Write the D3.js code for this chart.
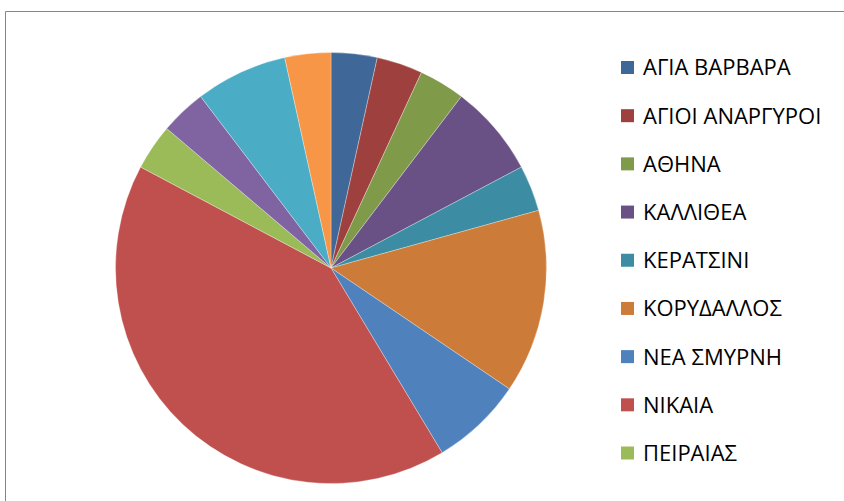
<!DOCTYPE html>
<html>
<head>
<meta charset="utf-8">
<script src="https://cdn.jsdelivr.net/npm/d3@7"></script>
<style>
  html, body { margin: 0; padding: 0; background: #fff; }
  svg { display: block; }
</style>
</head>
<body>
<svg id="chart" width="844" height="501"></svg>
<script>
// Municipalities (clockwise from 12 o'clock) and their counts
const categories = [
  "ΑΓΙΑ ΒΑΡΒΑΡΑ", "ΑΓΙΟΙ ΑΝΑΡΓΥΡΟΙ", "ΑΘΗΝΑ", "ΚΑΛΛΙΘΕΑ", "ΚΕΡΑΤΣΙΝΙ",
  "ΚΟΡΥΔΑΛΛΟΣ", "ΝΕΑ ΣΜΥΡΝΗ", "ΝΙΚΑΙΑ", "ΠΕΙΡΑΙΑΣ",
  "ΠΕΡΑΜΑ", "ΠΕΡΙΣΤΕΡΙ", "ΧΑΙΔΑΡΙ"
];
const values = [1, 1, 1, 2, 1, 4, 2, 12, 1, 1, 2, 1];
const colors = [
  "#3F6899", "#9E413E", "#7F9A48", "#695185", "#3C8DA3", "#CC7B38",
  "#4F81BD", "#C0504D", "#9BBB59", "#8064A2", "#4BACC6", "#F79646"
];
// Only the entries that fit in the legend box are listed
const legendCount = 9;

const svg = d3.select("#chart");

// Chart area frame
svg.append("path")
  .attr("d", "M5.5,501 V11.5 H844")
  .attr("fill", "none")
  .attr("stroke", "#868686")
  .attr("stroke-width", 1);

const cx = 331, cy = 268, r = 215.5;

const pie = d3.pie().sort(null).value(d => d.value);
const arc = d3.arc().innerRadius(0).outerRadius(r);
const data = categories.map((c, i) => ({ name: c, value: values[i], color: colors[i] }));

svg.append("g")
  .attr("transform", `translate(${cx},${cy})`)
  .selectAll("path")
  .data(pie(data))
  .join("path")
  .attr("d", arc)
  .attr("fill", d => d.data.color)
  .attr("stroke", "#ffffff")
  .attr("stroke-width", 0.5)
  .attr("stroke-opacity", 0.6);

// Legend
const legendY = d3.scaleLinear().domain([0, legendCount - 1]).range([67.5, 453]);
const legend = svg.append("g")
  .selectAll("g")
  .data(data.slice(0, legendCount))
  .join("g")
  .attr("transform", (d, i) => `translate(621,${legendY(i)})`);

legend.append("rect")
  .attr("x", 0).attr("y", -6.5)
  .attr("width", 13).attr("height", 13)
  .attr("fill", d => d.color);

legend.append("text")
  .attr("x", 22)
  .attr("y", 0)
  .attr("dy", "0.36em")
  .attr("font-family", "'Open Sans', 'Noto Sans', sans-serif")
  .attr("font-size", 22)
  .attr("fill", "#000")
  .text(d => d.name);
</script>
</body>
</html>
